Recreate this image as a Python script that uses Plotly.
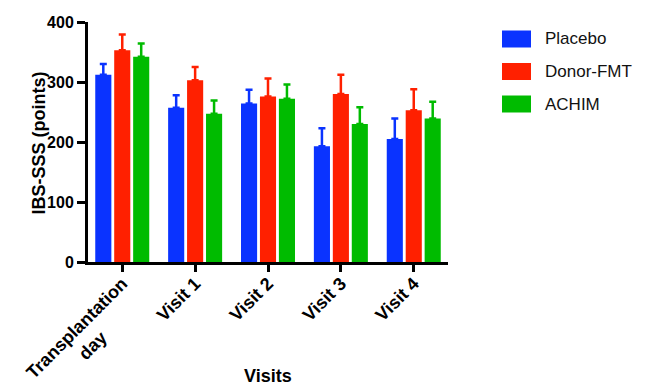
import plotly.graph_objects as go

categories = ["Transplantation", "Visit 1", "Visit 2", "Visit 3", "Visit 4"]
category_second_line = ["day", "", "", "", ""]
series_names = ["Placebo", "Donor-FMT", "ACHIM"]
placebo = [312, 257, 264, 193, 205]
placebo_err = [18, 21, 23, 30, 34]
donor = [353, 303, 276, 280, 253]
donor_err = [26, 22, 30, 32, 35]
achim = [342, 247, 272, 230, 239]
achim_err = [22, 22, 24, 28, 28]
y_ticks = [0, 100, 200, 300, 400]

colors = ["#0a33ff", "#ff2000", "#00bb00"]
values = [placebo, donor, achim]
errors = [placebo_err, donor_err, achim_err]
FONT = "Liberation Sans, Arial"

# page body has an 8px default margin; the figure is sized to fill the rest
W, H = 637, 377
L, T, R, B = 80, 14, 197, 123
PW, PH = W - L - R, H - T - B

fig = go.Figure()
for name, v, e, c in zip(series_names, values, errors, colors):
    fig.add_trace(go.Bar(
        name=name, x=categories, y=v, marker=dict(color=c, line=dict(width=0)),
        error_y=dict(type="data", array=e, arrayminus=[0] * len(e), symmetric=False,
                     color=c, thickness=2.5, width=3.5),
        showlegend=False,
    ))

# second line of rotated category label, centred under the first line
for cat, extra in zip(categories, category_second_line):
    if extra:
        fig.add_annotation(x=cat, xref="x", yref="paper", y=-83.5 / PH, text=f"<b>{extra}</b>",
                           showarrow=False, textangle=-45, xanchor="center", yanchor="middle",
                           xshift=-30, font=dict(family=FONT, size=18, color="black"))

# legend drawn as swatches + text
for i, (name, c) in enumerate(zip(series_names, colors)):
    yc = 39 + i * 32.5 - 8  # figure px
    fig.add_shape(type="rect", xref="paper", yref="paper",
                  x0=(494 - L) / PW, x1=(523 - L) / PW,
                  y0=(T + PH - (yc + 8.5)) / PH, y1=(T + PH - (yc - 8.5)) / PH,
                  fillcolor=c, line=dict(width=0))
    fig.add_annotation(xref="paper", yref="paper", x=(535 - L) / PW, y=(T + PH - yc) / PH,
                       text=name, showarrow=False, xanchor="left", yanchor="middle",
                       font=dict(family=FONT, size=17, color="#111"))

fig.add_annotation(xref="paper", yref="paper", x=0.5, y=-114 / PH, text="<b>Visits</b>",
                   showarrow=False, xanchor="center", yanchor="middle",
                   font=dict(family=FONT, size=18, color="black"))
fig.add_annotation(xref="paper", yref="paper", x=(30 - L) / PW, y=(T + PH - 135.5) / PH,
                   text="<b>IBS-SSS (points)</b>", textangle=-90,
                   showarrow=False, xanchor="center", yanchor="middle",
                   font=dict(family=FONT, size=18, color="black"))

fig.update_layout(
    width=W, height=H,
    margin=dict(l=L, r=R, t=T, b=B),
    paper_bgcolor="white", plot_bgcolor="white",
    barmode="group", bargap=0.22, bargroupgap=0.15,
    font=dict(family=FONT, color="black"),
    xaxis=dict(
        range=[-0.47, 4.47], showline=True, linecolor="black", linewidth=3,
        ticks="outside", ticklen=7, tickwidth=3, tickcolor="black",
        tickangle=-45, tickfont=dict(size=18, weight="bold"), ticklabelstandoff=-6,
        showgrid=False, zeroline=False, automargin=False,
    ),
    yaxis=dict(
        range=[0, 400], tickvals=y_ticks, showline=True, linecolor="black", linewidth=3,
        ticks="outside", ticklen=8, tickwidth=3, tickcolor="black",
        tickfont=dict(size=16, weight="bold"),
        showgrid=False, zeroline=False, automargin=False,
    ),
)

fig.write_html("out.html")
